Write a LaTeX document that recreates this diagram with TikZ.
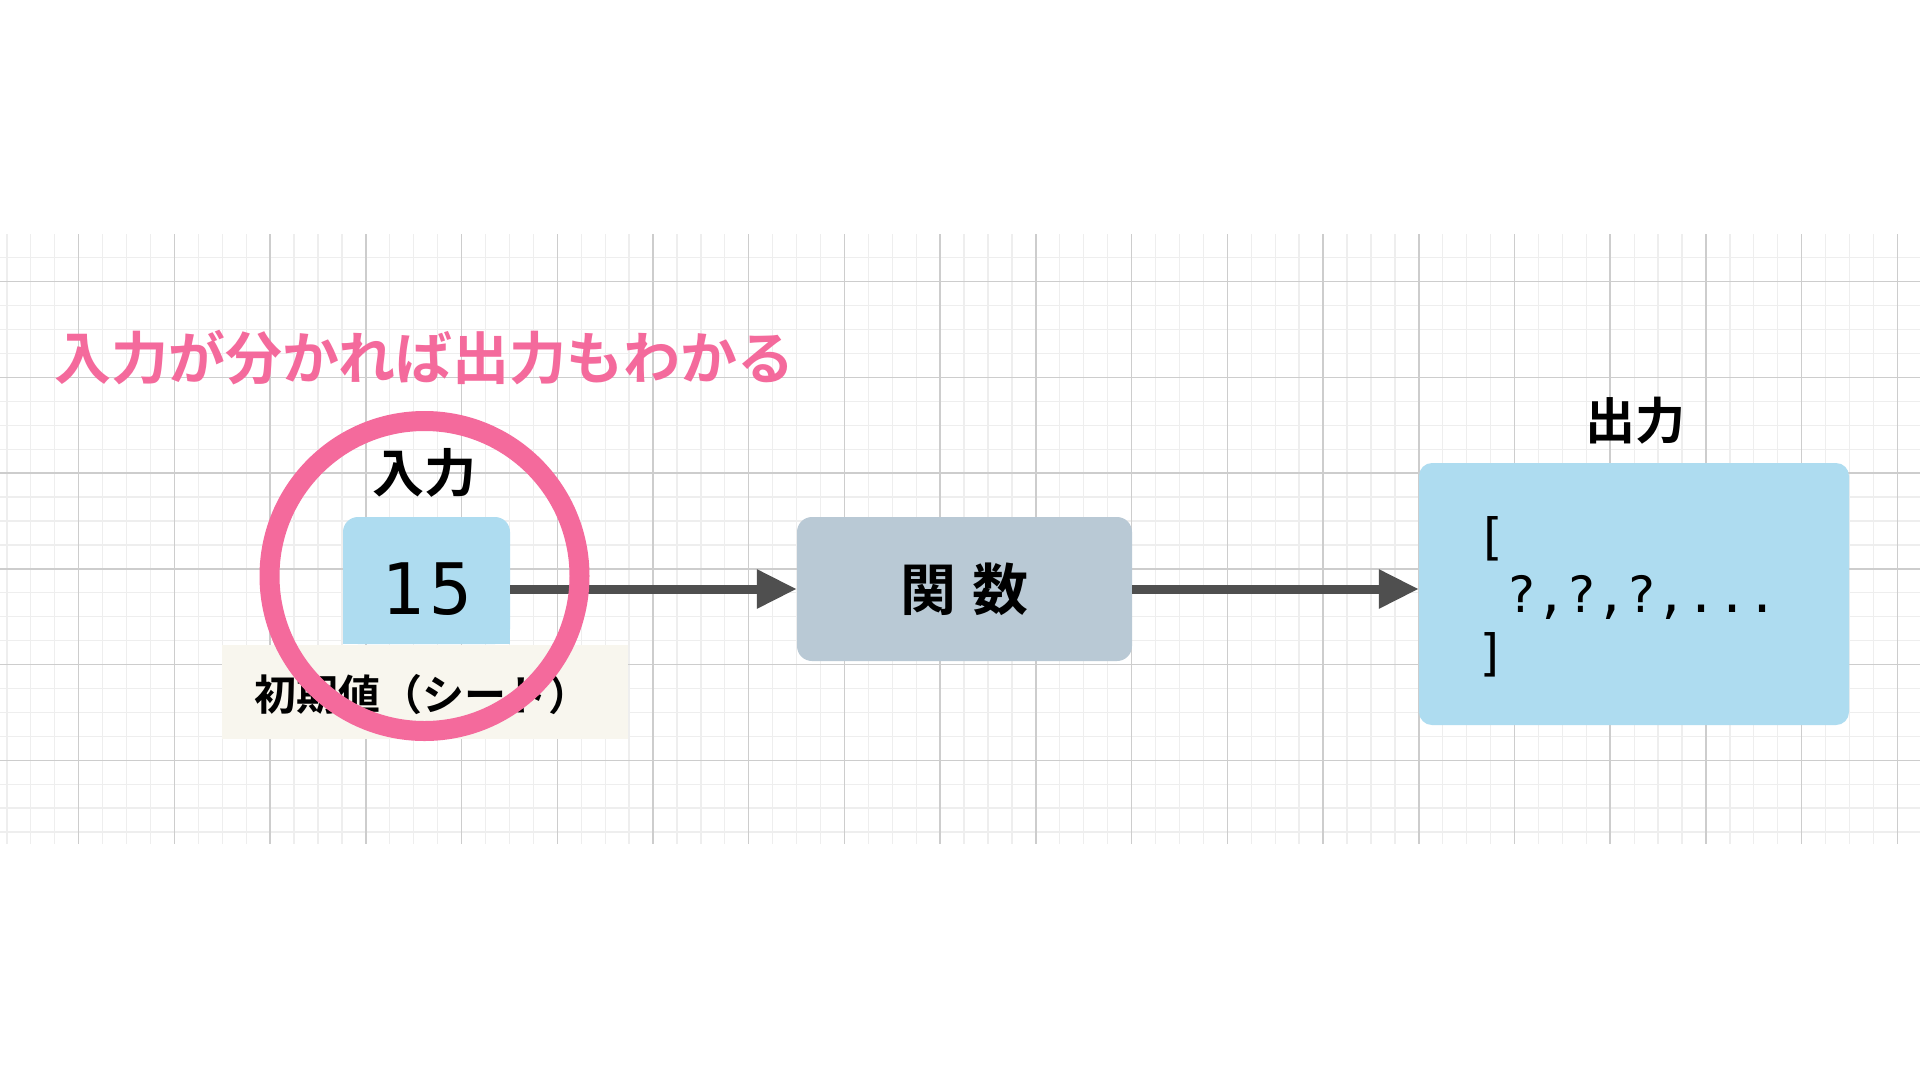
\documentclass[tikz,border=0pt]{standalone}
\usepackage{fontspec}
\setmainfont{Noto Sans CJK JP}[BoldFont=* Bold]
\newfontfamily\codefont{DejaVu Sans Mono}
\usetikzlibrary{arrows.meta}
\definecolor{pinkline}{HTML}{F46A9C}
\definecolor{lightblue}{HTML}{AEDCF0}
\definecolor{funcgray}{HTML}{B9C9D5}
\definecolor{seedbg}{HTML}{F8F6EE}
\definecolor{arrowgray}{HTML}{4F4F4F}
\definecolor{gridminor}{HTML}{EEEEEE}
\definecolor{gridmajor}{HTML}{CDCDCD}
\newcommand{\fsz}[1]{\fontsize{#1}{#1}\selectfont}

\begin{document}
\begin{tikzpicture}[x=1pt,y=-1pt,minorline/.style={draw=gridminor,line width=1.3},majorline/.style={draw=gridmajor,line width=1.5},headtext/.style={font=\bfseries\fsz{52},inner sep=0},box/.style={rounded corners=15,inner sep=0},arr/.style={draw=arrowgray,line width=9,-{Triangle[length=40pt,width=37pt]}}]
    \useasboundingbox (0,0) rectangle (1920,1080);
    \fill[white] (0,0) rectangle (1920,1080);
    \foreach \i in {0,...,80} \draw[minorline] ({6.9+23.93*\i},234) -- ({6.9+23.93*\i},844);
    \foreach \j in {1,...,25} \draw[minorline] (0,{233.8+23.93*\j}) -- (1920,{233.8+23.93*\j});
    \foreach \i in {0,...,19} \draw[majorline] ({78.7+95.72*\i},234) -- ({78.7+95.72*\i},844);
    \foreach \j in {0,...,5} \draw[majorline] (0,{281.7+95.72*\j}) -- (1920,{281.7+95.72*\j});
    \node[font=\bfseries\fsz{57},text=pinkline,inner sep=0] (title) at (424.5,358) {入力が分かれば出力もわかる};
    \node[headtext] (inlabel) at (424,473) {入力};
    \node[box,fill=lightblue,minimum width=167,minimum height=127] (inbox) at (426.5,580.5) {};
    \fill[lightblue] (inbox.west) rectangle (inbox.south east);
    \node[font=\codefont\fsz{71},inner sep=0] (seedval) at (427,589) {1\kern5pt 5};
    \node[fill=seedbg,minimum width=406,minimum height=94,inner sep=0] (seed) at (425,692) {};
    \node[font=\bfseries\fsz{42},anchor=west,inner sep=0] (seedtext) at (254,695) {初期値（シード）};
    \node[box,fill=funcgray,minimum width=335,minimum height=144,font=\bfseries\fsz{56}] (func) at (964.5,589) {関\hspace{16pt}数};
    \node[headtext,font=\bfseries\fsz{50}] (outlabel) at (1635,421) {出力};
    \node[box,fill=lightblue,minimum width=430,minimum height=262,rounded corners=13] (outbox) at (1634,594) {};
    \node[font=\codefont\fontsize{50}{58}\selectfont,align=left,anchor=west,inner sep=0] (outtext) at (1476,597) {[\\\hphantom{[}?,?,?,...\\]};
    \draw[arr] (inbox.east |- func.west) -- (func.west);
    \draw[arr] (func.east) -- (outbox.west |- func.east);
    \node[circle,draw=pinkline,line width=20,minimum size=310,inner sep=0] (ring) at (424.5,576) {};
\end{tikzpicture}
\end{document}
